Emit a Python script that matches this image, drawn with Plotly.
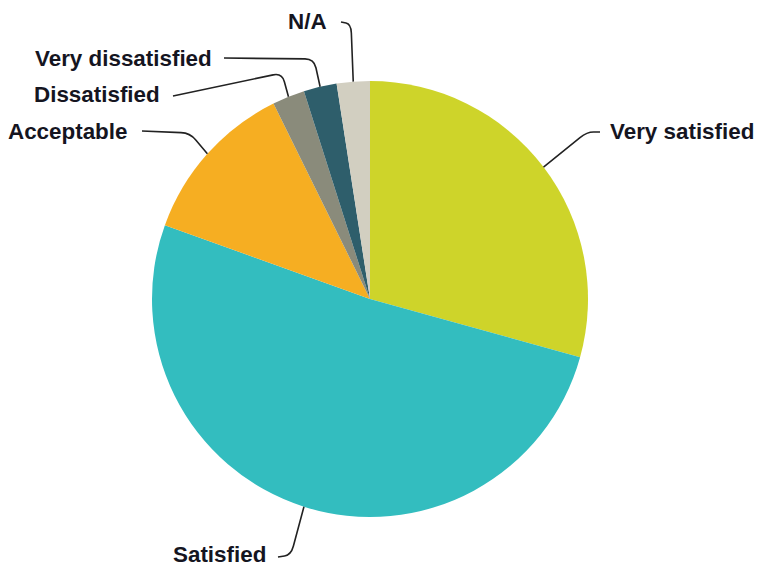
import math
import plotly.graph_objects as go

labels = ["Very satisfied", "Satisfied", "Acceptable", "Dissatisfied", "Very dissatisfied", "N/A"]
values = [29.3, 51.2, 12.2, 2.4, 2.45, 2.45]
colors = ["#CED42A", "#33BDBF", "#F6AE22", "#8A8B7B", "#2E5E6B", "#D2CFC1"]

W, H = 757, 569
cx, cy, R = 370, 299, 218

# label text anchor positions (px) and leader-line layout
label_pos = {
    "Very satisfied":    dict(x=609, y=131, anchor="left",  start=(600, 132), corner=(587, 132)),
    "Satisfied":         dict(x=267, y=554, anchor="right", start=(278, 557), corner=(291, 555)),
    "Acceptable":        dict(x=128, y=131, anchor="right", start=(142, 131), corner=(190, 133)),
    "Dissatisfied":      dict(x=161, y=94,  anchor="right", start=(173, 96),  corner=(282, 73)),
    "Very dissatisfied": dict(x=213, y=58,  anchor="right", start=(224, 58),  corner=(314, 59)),
    "N/A":               dict(x=328, y=22,  anchor="right", start=(341, 22),  corner=(351, 24)),
}

def px2paper(x, y):
    return x / W, 1 - y / H

fig = go.Figure(go.Pie(
    labels=labels, values=values, sort=False, direction="clockwise", rotation=0,
    marker=dict(colors=colors, line=dict(width=0)),
    textinfo="none", hoverinfo="label+percent",
    domain=dict(x=[(cx - R) / W, (cx + R) / W], y=[(H - cy - R) / H, (H - cy + R) / H]),
    showlegend=False,
))

total = sum(values)
cum = 0
shapes, annotations = [], []
for lab, v in zip(labels, values):
    mid = (cum + v / 2) / total * 2 * math.pi
    cum += v
    ex, ey = cx + R * math.sin(mid), cy - R * math.cos(mid)
    p = label_pos[lab]
    sx, sy = p["start"]
    kx, ky = p["corner"]
    rr = 9
    def toward(ax, ay, bx, by, d):
        L = math.hypot(bx - ax, by - ay) or 1
        t = min(d / L, 0.5)
        return ax + (bx - ax) * t, ay + (by - ay) * t
    p1 = toward(kx, ky, sx, sy, rr)
    p2 = toward(kx, ky, ex, ey, rr)
    pts = [(sx, sy), p1, (kx, ky), p2, (ex, ey)]
    pp = [px2paper(*q) for q in pts]
    path = "M {} {} L {} {} Q {} {} {} {} L {} {}".format(*[c for q in pp for c in q])
    shapes.append(dict(type="path", xref="paper", yref="paper", path=path,
                       line=dict(color="#222222", width=1.6)))
    ax_, ay_ = px2paper(p["x"], p["y"])
    annotations.append(dict(x=ax_, y=ay_, xref="paper", yref="paper", text="<b>%s</b>" % lab,
                            showarrow=False, xanchor=p["anchor"], yanchor="middle", borderpad=0,
                            font=dict(family="Liberation Sans, Arial, sans-serif", size=22.4, color="#15151f")))

fig.update_layout(width=W, height=H, margin=dict(l=0, r=0, t=0, b=0),
                  paper_bgcolor="white", plot_bgcolor="white",
                  shapes=shapes, annotations=annotations)
fig.write_html("out.html")
